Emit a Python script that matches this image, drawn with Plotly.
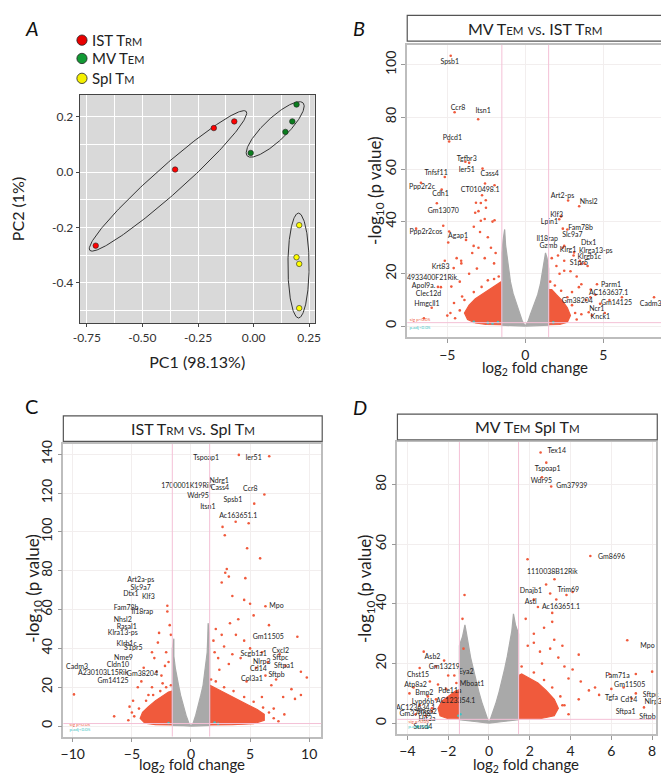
import numpy as np
import plotly.graph_objects as go

FONT = "Lato"
RED = "#f05a3c"
GREY = "#a9a9a9"
CYAN = "#3cc4c4"
PINK = "#f4c0d6"

# ---------------- Panel A : PCA ----------------
ist_pc1 = [-0.710, -0.353, -0.179, -0.087]
ist_pc2 = [-0.266, 0.009, 0.159, 0.183]
mv_pc1 = [-0.013, 0.143, 0.174, 0.193]
mv_pc2 = [0.069, 0.145, 0.183, 0.244]
spl_pc1 = [0.205, 0.193, 0.205, 0.205]
spl_pc2 = [-0.192, -0.308, -0.332, -0.492]
# ellipse: centre (data), semi-axes (px), angle (deg)
ell_cx = [-0.385, 0.097, 0.202]
ell_cy = [-0.032, 0.154, -0.338]
ell_a = [106, 39, 52.7]
ell_b = [14, 11.5, 10.8]
ell_ang = [41.2, 43, 90]

# ---------------- Panel B ----------------
B_names = ["Spsb1", "Ccr8", "Itsn1", "Pdcd1", "Tgfbr3", "Ier51", "Cass4", "Tnfsf11", "Ppp2r2c", "Cdh1",
           "CT010498.1", "Gm13070", "Ppp2r2cos", "Agap1", "Krt83", "4933400F21Rik.", "Apol9a.", "Clec12d",
           "Hmgcll1", "Art2-ps", "Nhsl2", "Klf3", "Lpin1", "Fam78b", "Slc9a7", "Il18rap", "Dtx1", "Gzmb",
           "Klrg1", "Klrga13-ps", "Klrgb1c", "S1pr5", "Parm1", "AC163637.1", "Gm38204", "Gm14125", "Cadm3",
           "Ncr1", "Knck1"]
B_lx = [-4.84, -4.31, -2.70, -4.67, -3.75, -3.75, -2.28, -5.72, -6.62, -5.43, -2.89, -5.26, -6.37, -4.31,
        -5.43, -5.93, -6.52, -6.2, -6.31, 2.39, 4.07, 2.01, 1.55, 3.55, 3.02, 1.41, 4.07, 1.49, 2.75, 4.53,
        4.11, 3.44, 5.5, 5.35, 3.34, 5.85, 8.05, 4.59, 4.82]
B_ly = [101, 83.4, 82.2, 71.8, 64, 59.7, 58, 58.4, 53, 50.4, 52, 44.1, 36, 34.2, 22.5, 18.4, 15.2, 12.0,
        8.3, 49.8, 47.5, 42.4, 39.6, 37.3, 34.6, 33.3, 31.8, 30.6, 29.1, 28.8, 26.2, 24.1, 15.6, 12.5, 9.5,
        8.8, 8.5, 6.4, 3.2]
B_px = [-4.78, -4.53, -3.02, -4.88, -3.84, -3.6, -2.74, -5.16, -6.69, -5.36, -2.58, -1.97, -2.77, -3.16,
        -2.85, -2.52, -5.67, -7.0, -4.88, 2.75, 3.46, 2.18, 2.41, 8.26, -5.26, -4.94, -3.31, -2.85, -2.53,
        -1.97, -3.21, -5.16, -4.11, -4.59, -4.74, -5.41, -4.57, -4.05, 2.5, 3.13, 3.58, 3.44, 2.5, 4.18,
        4.8, 4.07, 4.28, -2.1, -2.6, -3.0, -3.3, -2.9, -2.4, -3.8, -4.4, -4.1, -3.4, -3.0, -2.2, -1.9,
        -2.6, -3.6, -5.6, -6.0, -6.5, -5.0, -4.2, -3.1, -2.0, 1.7, 2.1, 2.5, 2.9, 3.3, 3.6, 4.2, 4.5, 3.0,
        3.9, 2.2, 2.0, 3.5, 4.0, 3.1, 2.4, 5.4, 6.2, 5.1, 2.7, 2.3, 3.8, 4.6,
        -1.7, -2.0, -2.4, -2.8, -3.3, -3.9, -4.2, -4.5, -4.8, 1.6, 1.9, 2.3, 2.7, 3.0, 3.2, 3.3, 3.6]
B_py = [103.5, 81.9, 79.2, 70.7, 62.9, 62.5, 60.3, 57.1, 54.9, 52.3, 54.6, 53.9, 50.1, 47.2, 47.1, 45.3,
        47, 37.3, 36.2, 48.1, 45.9, 40.9, 37.3, 11, 38.4, 32, 30.7, 40.3, 48.2, 40.5, 43.4, 25, 25, 22.2,
        15.1, 14.9, 8.8, 11.3, 30.7, 28.2, 23.8, 14.9, 21.2, 11, 8.5, 5.3, 4.1, 40, 41, 44, 38, 36, 34,
        33, 26, 24, 28, 30, 30, 28, 26, 20, 15, 7, 3, 4, 17, 22, 24, 26, 27, 25, 21, 19, 16, 14, 12, 13,
        10, 20, 23, 25, 23, 27, 30, 10, 11, 5, 37, 42, 24, 16,
        19, 18, 17.5, 15, 13, 10, 6, 3, 5, 17, 15.5, 13.5, 11, 8, 5, 2.5, 4.5]
B_grey_L = [(0, 0), (-0.18, 1.8), (-0.33, 4.4), (-0.55, 8), (-0.78, 12.5), (-0.95, 17), (-1.05, 22.5),
            (-1.17, 27), (-1.26, 31), (-1.32, 37), (-1.42, 33), (-1.5, 28), (-1.5, 0.3), (-0.5, 0.2)]
B_grey_R = [(0, 0), (0.18, 1.8), (0.33, 4.4), (0.55, 8), (0.8, 12), (0.97, 16), (1.08, 20), (1.2, 24),
            (1.3, 28), (1.4, 26), (1.5, 22), (1.5, 0.3), (0.5, 0.2)]
B_red_L = [(-1.5, 0.5), (-2.5, 0.6), (-3.2, 1.2), (-3.7, 2.5), (-3.9, 5), (-3.6, 8), (-3.2, 10.5),
           (-2.7, 12.5), (-2.2, 14.5), (-1.8, 16), (-1.55, 17)]
B_red_R = [(1.5, 0.5), (2.2, 0.6), (2.7, 1.5), (2.9, 4), (2.7, 7), (2.4, 9.5), (2.0, 12), (1.7, 14), (1.5, 14)]
B_cx = [-3.3, -2.4, -1.75, 1.8, -2.1]
B_cy = [1.6, 1.3, 1.5, 1.4, 1.0]

# ---------------- Panel C ----------------
C_names = ["Tspoap1", "Ier51", "Ndrg1", "1700001K19Rik", "Cass4", "Ccr8", "Wdr95", "Spsb1", "Itsn1",
           "Ac163651.1", "Art2a-ps", "Slc9a7", "Dtx1", "Klf3", "Fam78b", "Il18rap", "Nhsl2", "Rasal1",
           "Klra13-ps", "Klrb1c", "S1pr5", "Nme9", "Cldn10", "Cadm3", "A230103L15Rik", "Gm38204", "Gm14125",
           "Mpo", "Gm11505", "Cxcl2", "Scgb1a1", "Sftpc", "Nlrp3", "Sftpa1", "Cd14", "Sftpb", "Col3a1"]
C_lx = [1.29, 5.3, 2.39, -0.37, 2.45, 5.02, 0.6, 3.55, 1.43, 4.0, -4.25, -4.25, -5.08, -3.61, -5.49, -4.11,
        -5.77, -5.44, -5.77, -5.44, -4.88, -5.71, -6.18, -9.64, -7.43, -4.11, -6.6, 7.24, 6.54, 7.57, 5.3,
        7.57, 5.99, 7.87, 5.71, 7.24, 5.16]
C_ly = [137.8, 137.8, 126.2, 123.6, 122.6, 121.9, 118.5, 116.4, 112.5, 107.9, 75.2, 71.1, 68.1, 66.4, 60.9,
        58.7, 54.4, 51.0, 47.9, 42.4, 40.2, 35.1, 31.3, 30.5, 27.4, 26.7, 23.3, 61.5, 45.8, 38.7, 36.8,
        35.1, 32.7, 30.8, 29.1, 26.2, 24.1]
C_px = [4.05, 6.62, 6.21, 5.35, 3.78, 4.88, 2.67, 2.86, 4.75, 5.85, 3.03, 2.9, 4.6, 3.2, 2.6, 3.5, 4.5, 5.0,
        6.3, 5.3, 6.6, 4.0, 3.3, 2.1, 2.6, 3.8, 9.0, 4.5, 5.0, 6.0, 7.5, 2.8, 3.5, 6.5, 5.5, 8.0, 9.3, 9.8,
        7.2, 6.8, 8.5, 4.7, 3.2, 2.3, 1.9, 7.8, 9.3, 8.8, 6.0, 7.0, 4.2, 6.3, 2.0, 2.4,
        -2.0, -2.0, -1.8, -2.7, -1.7, -2.8, -3.3, -3.1, -2.2, -2.9, -2.5, -4.2, -4.5, -3.3, -3.6, -4.9,
        -5.2, -5.0, -6.5, -2.1, -1.9, -2.4, -9.9, -4.0,
        -1.7, -2.1, -2.6, -3.2, -3.8, -4.4, -4.8, -5.3, 1.7, 2.1, 2.8, 3.6, 4.5, 5.3, 6.1, 6.6, 7.0, 7.4, 7.9]
C_py = [139.7, 139, 119.3, 114.6, 105.3, 104.5, 102.6, 98.3, 91.6, 86.4, 80.9, 79, 76.2, 77, 74, 67, 65,
        63, 61.7, 57, 52, 55, 53, 50, 47, 47, 46, 44, 40, 38, 37, 41, 37, 33, 30, 31, 28, 25, 24, 21, 19,
        23, 32, 35, 44, 15, 16, 14, 15, 9, 35, 26, 38, 29,
        62, 59, 52, 48, 47, 43, 38, 35, 31, 28, 26, 23, 20, 20, 16, 13, 10, 7, 5, 38, 33, 22, 16.3, 30,
        21, 20, 18, 16, 13, 9, 5, 3, 24, 23, 20, 18, 15, 12.5, 9.5, 7, 4, 2.5, 6]
C_grey_L = [(0, 0), (-0.2, 1.8), (-0.42, 5.6), (-0.68, 11), (-0.88, 15.9), (-1.05, 21), (-1.17, 24.5),
            (-1.33, 30), (-1.45, 36), (-1.45, 45), (-1.58, 40), (-1.58, 0.3), (-0.6, 0.2)]
C_grey_R = [(0, 0), (0.2, 1.8), (0.4, 5.6), (0.65, 11), (0.83, 15.9), (1.02, 21), (1.13, 26), (1.27, 32),
            (1.37, 38), (1.42, 46), (1.45, 53), (1.55, 48), (1.58, 40), (1.58, 0.3), (0.6, 0.2)]
C_red_L = [(-1.58, 0.6), (-3.0, 0.7), (-3.9, 1.5), (-4.3, 4), (-4.1, 7), (-3.6, 10), (-3.0, 13), (-2.4, 15.5),
           (-1.9, 17.5), (-1.6, 18)]
C_red_R = [(1.58, 0.6), (3.5, 0.7), (5.3, 1.2), (6.2, 3), (6.2, 6), (5.6, 8.5), (4.8, 11), (4.0, 13.5),
           (3.2, 16), (2.5, 18), (1.9, 20), (1.6, 21)]
C_cx = [-1.9, 2.3, 2.0]
C_cy = [1.5, 1.2, 1.8]

# ---------------- Panel D ----------------
D_names = ["Tex14", "Tspoap1", "Wdr95", "Gm37939", "Gm8696", "1110038B12Rik", "Trim69", "Dnajb1", "Astl",
           "Ac163651.1", "Mpo", "Asb2", "Gm13219", "Eya2", "Chst15", "Fam71a", "Cxcl2", "Mboat1", "Atp8a2",
           "Gm11505", "Bmp2", "Pde11a", "Sftpc", "Tgfa", "Cd14", "Nlrp3", "Lypd6b", "AC123354.1",
           "AC123634.1", "Sftpa1", "Sftpb", "Gm37068", "Shisa2", "Hif3a", "Susd4"]
D_lx = [3.32, 2.88, 2.57, 4.06, 6.01, 3.1, 3.89, 2.05, 2.05, 3.53, 7.77, -2.77, -2.19, -1.12, -3.48, 6.3,
        8.38, -0.83, -3.6, 6.9, -3.17, -1.92, 7.93, 6.01, 6.86, 8.05, -3.24, -1.63, -3.6, 6.7, 7.77, -3.63,
        -3.04, -3.04, -3.24]
D_ly = [91.3, 85.3, 81.1, 79.4, 55.8, 50.8, 44.7, 44.1, 40.6, 38.9, 25.9, 22.0, 18.9, 17.2, 16.1, 15.9,
        15.3, 13.1, 12.8, 12.8, 10.0, 10.6, 9.4, 8.3, 7.6, 6.9, 6.9, 7.2, 5.0, 3.6, 1.9, 3.0, 3.7, 1.4, -1.4]
D_px = [2.53, 2.81, 2.6, 3.05, 4.97, 1.89, 3.21, 2.8, 3.0, 2.2, 2.4, 3.1, 3.3, 3.8, 4.1, 1.8, 2.2, 2.7, 3.1,
        3.2, 3.6, 4.4, 3.0, 2.5, 1.9, 3.7, 4.1, 3.9, 4.5, 4.9, 5.2, 4.4, 3.6, 6.78, 5.9, 7.2, 8.0, 6.0, 6.6,
        7.2, 7.0, 7.6, 5.4, 2.2, 2.6, 3.4,
        -3.2, -1.25, -3.4, -2.6, -2.0, -2.9, -3.7, -3.9, -3.0, -2.5, -3.4, -2.8, -1.7, -3.6, -2.2, -1.3, -1.2,
        -1.6, -2.1, -2.6, -2.8, -3.1, 1.6, 2.2, 2.7, 3.1, 3.5, 3.7, 3.9]
D_py = [90.8, 87.4, 82.5, 79.4, 56.1, 55, 48.3, 46.5, 43.5, 41.5, 39, 37, 41.5, 43, 44, 35, 30, 32, 34, 28,
        26, 23, 25, 24, 26, 19, 18, 15, 14, 11, 12, 8, 6, 27.8, 16.5, 16.5, 17.3, 11.5, 12, 10, 8.3, 5.3,
        9.5, 27, 20, 22,
        24, 25, 18.5, 19, 16, 14, 12, 10, 9, 13, 6, 5, 16, 3, 21, 35, 43,
        13.5, 11.5, 8, 4, 2.5, 19, 17, 14.5, 12, 9, 6, 3]
D_grey_L = [(0, 0), (-0.2, 3.9), (-0.35, 7), (-0.5, 10.6), (-0.65, 14.5), (-0.77, 18.3), (-0.9, 22),
            (-1.02, 26.1), (-1.1, 30), (-1.18, 33), (-1.3, 29), (-1.45, 26), (-1.45, 1.2), (-0.6, 0.5)]
D_grey_R = [(0, 0), (0.2, 3.9), (0.35, 7), (0.5, 10.6), (0.65, 14.5), (0.77, 18.3), (0.9, 22.5), (1.02, 27.2),
            (1.12, 31), (1.2, 36.7), (1.3, 33), (1.45, 30), (1.45, 1.2), (0.6, 0.5)]
D_red_L = [(-1.45, 1.5), (-2.0, 1.5), (-2.4, 2.5), (-2.5, 5), (-2.3, 7.5), (-1.9, 9.5), (-1.6, 11), (-1.45, 11)]
D_red_R = [(1.45, 1.5), (2.5, 1.5), (3.2, 2.5), (3.4, 5), (3.2, 8), (2.8, 11), (2.4, 13.5), (1.9, 15.5),
           (1.6, 16.5), (1.45, 16)]
D_cx = [-1.5, -1.4, -3.5, -3.0]
D_cy = [2.5, 3.0, -1.2, -1.5]

# thresholds per panel (log2FC, -log10 p)
thr_fc = {"B": 1.5, "C": 1.58, "D": 1.45}
thr_p = 1.3

W, H = 669, 773
fig = go.Figure()
shapes = []
annotations = []

# ---------- panel A drawing ----------
ax_A = dict(domain=[66 / W, 305.7 / W], range=[-0.782, 0.275])
ay_A = dict(domain=[1 - 313 / H, 1 - 83 / H], range=[-0.547, 0.280])
sx = (305.7 - 66) / (ax_A["range"][1] - ax_A["range"][0])
sy = (313 - 83) / (ay_A["range"][1] - ay_A["range"][0])
t = np.linspace(0, 2 * np.pi, 240)
for cx, cy, a, b, ang in zip(ell_cx, ell_cy, ell_a, ell_b, ell_ang):
    th = np.deg2rad(ang)
    u, v = a * np.cos(t), b * np.sin(t)
    X = u * np.cos(th) - v * np.sin(th)
    Y = u * np.sin(th) + v * np.cos(th)
    fig.add_trace(go.Scatter(x=cx + X / sx, y=cy + Y / sy, mode="lines", xaxis="x", yaxis="y",
                             line=dict(color="#333333", width=1), hoverinfo="skip", showlegend=False))
for xs, ys, col in [(ist_pc1, ist_pc2, "#ff0000"), (mv_pc1, mv_pc2, "#0a7d1e"), (spl_pc1, spl_pc2, "#ffff00")]:
    fig.add_trace(go.Scatter(x=xs, y=ys, mode="markers", xaxis="x", yaxis="y", showlegend=False,
                             marker=dict(size=5.5, color=col, line=dict(color="#222", width=0.6))))


def volcano(ax, ay, greys, reds, px, py, cx, cy, names, lx, ly, legx, legy):
    # dense point clouds drawn as filled outlines (red first, grey V on top)
    for pts, col in [(r, RED) for r in reds] + [(g, GREY) for g in greys]:
        xs = [p[0] for p in pts] + [pts[0][0]]
        ys = [p[1] for p in pts] + [pts[0][1]]
        fig.add_trace(go.Scatter(x=xs, y=ys, mode="lines", fill="toself", fillcolor=col,
                                 line=dict(color=col, width=1.2), xaxis=ax, yaxis=ay,
                                 hoverinfo="skip", showlegend=False))
    fig.add_trace(go.Scatter(x=px, y=py, mode="markers", marker=dict(size=2.6, color=RED),
                             xaxis=ax, yaxis=ay, showlegend=False))
    fig.add_trace(go.Scatter(x=cx, y=cy, mode="markers", marker=dict(size=2.6, color=CYAN),
                             xaxis=ax, yaxis=ay, showlegend=False))
    fig.add_trace(go.Scatter(x=lx, y=ly, mode="text", text=names, cliponaxis=False,
                             textfont=dict(family=FONT, size=7, color="#222"),
                             xaxis=ax, yaxis=ay, showlegend=False))
    fig.add_trace(go.Scatter(x=[legx, legx], y=legy, mode="text", text=["sig p<0.05", "p.adj<0.05"],
                             textfont=dict(family=FONT, size=4.5, color=[RED, CYAN]),
                             xaxis=ax, yaxis=ay, showlegend=False))


volcano("x2", "y2", [B_grey_L, B_grey_R], [B_red_L, B_red_R], B_px, B_py, B_cx, B_cy,
        B_names, B_lx, B_ly, -6.75, [2.2, -0.6])
volcano("x3", "y3", [C_grey_L, C_grey_R], [C_red_L, C_red_R], C_px, C_py, C_cx, C_cy,
        C_names, C_lx, C_ly, -9.4, [0.6, -2.0])
volcano("x4", "y4", [D_grey_L, D_grey_R], [D_red_L, D_red_R], D_px, D_py, D_cx, D_cy,
        D_names, D_lx, D_ly, -3.44, [0.3, -1.2])

for key, ax, ay in [("B", "x2", "y2"), ("C", "x3", "y3"), ("D", "x4", "y4")]:
    for s in (-1, 1):
        shapes.append(dict(type="line", xref=ax, yref=ay + " domain", x0=s * thr_fc[key], x1=s * thr_fc[key],
                           y0=0, y1=1, line=dict(color=PINK, width=1), layer="above"))
    shapes.append(dict(type="line", xref=ax + " domain", yref=ay, x0=0, x1=1, y0=thr_p, y1=thr_p,
                       line=dict(color=PINK, width=1), layer="above"))

# title boxes (pixel boxes -> paper)
sc = "<span style='font-size:11.5px'>"
boxes = [(400, 660.7, 3.3, 29.3, f"MV T{sc}EM</span> {sc}VS</span>. IST T{sc}RM</span>"),
         (49.3, 313.3, 406, 431.7, f"IST T{sc}RM</span> {sc}VS</span>. Spl T{sc}M</span>"),
         (390, 655, 404.3, 430, f"MV T{sc}EM</span> Spl T{sc}M</span>")]
for x0, x1, y0, y1, txt in boxes:
    shapes.append(dict(type="rect", xref="paper", yref="paper", x0=x0 / W, x1=x1 / W, y0=1 - y1 / H,
                       y1=1 - y0 / H, line=dict(color="#555555", width=1.2), fillcolor="white"))
    annotations.append(dict(text=txt, x=(x0 + x1) / 2 / W, y=1 - (y0 + y1) / 2 / H, xref="paper",
                            yref="paper", showarrow=False, xanchor="center", yanchor="middle",
                            font=dict(family=FONT, size=16, color="#222")))

# axis titles of volcano panels (pixel centres)
for xc, yc in [(530, 358), (181, 757), (521, 757)]:
    annotations.append(dict(text="log<sub>2</sub> fold change", x=xc / W, y=1 - yc / H, xref="paper",
                            yref="paper", showarrow=False, xanchor="center", yanchor="middle",
                            font=dict(family=FONT, size=15, color="#222")))
for xc, yc in [(368, 180), (19, 580), (358, 580)]:
    annotations.append(dict(text="-log<sub>10</sub> (p value)", x=xc / W, y=1 - yc / H, xref="paper",
                            yref="paper", showarrow=False, xanchor="center", yanchor="middle", textangle=-90,
                            font=dict(family=FONT, size=17, color="#222")))

# panel letters
for letter, xp, yp, ital in [("A", 17, 16, True), ("B", 351, 16, True), ("C", 17, 396, False), ("D", 352, 397, True)]:
    annotations.append(dict(text=f"<i>{letter}</i>" if ital else letter, x=xp / W, y=1 - yp / H,
                            xref="paper", yref="paper", showarrow=False, xanchor="center", yanchor="middle",
                            font=dict(family=FONT, size=20, color="#111")))

# PCA legend
for col, txt, yp in [("#e80000", "IST T<span style='font-size:11px'>RM</span>", 28.3),
                     ("#129a34", "MV T<span style='font-size:11px'>EM</span>", 46.7),
                     ("#f5f000", "Spl T<span style='font-size:11px'>M</span>", 66.7)]:
    shapes.append(dict(type="circle", xref="paper", yref="paper", x0=(68.3 - 5.2) / W, x1=(68.3 + 5.2) / W,
                       y0=1 - (yp + 5.2) / H, y1=1 - (yp - 5.2) / H, fillcolor=col,
                       line=dict(color="#222", width=0.8)))
    annotations.append(dict(text=txt, x=76.5 / W, y=1 - yp / H, xref="paper", yref="paper", showarrow=False,
                            xanchor="left", yanchor="middle", font=dict(family=FONT, size=15, color="#222")))

# Panel A grey background
shapes.append(dict(type="rect", xref="x domain", yref="y domain", x0=0, x1=1, y0=0, y1=1,
                   fillcolor="#d9d9d9", line=dict(width=0), layer="below"))

tickfont_v = dict(family=FONT, size=14, color="#222")


def vax(domain, rng, dtick, anchor):
    return dict(domain=domain, range=rng, dtick=dtick, anchor=anchor, showgrid=True, gridcolor="#f2eeee",
                gridwidth=1, zeroline=False, showline=True, mirror=True, linecolor="#bdbdbd", linewidth=1.5,
                ticks="outside", ticklen=4, tickcolor="#999", tickfont=tickfont_v)


fig.update_layout(
    width=W, height=H, margin=dict(l=0, r=0, t=0, b=0), paper_bgcolor="white", plot_bgcolor="white",
    showlegend=False, shapes=shapes, annotations=annotations,
    xaxis=dict(**ax_A, anchor="y", tickvals=[-0.75, -0.5, -0.25, 0, 0.25],
               ticktext=["-0.75", "-0.50", "-0.25", "0.00", "0.25"],
               showgrid=True, gridcolor="white", gridwidth=1.4, zeroline=False,
               minor=dict(dtick=0.125, tick0=-0.875, showgrid=True, gridcolor="white", gridwidth=0.6),
               showline=True, mirror=True, linecolor="#444", linewidth=1, ticks="outside", ticklen=3,
               tickcolor="#444", tickfont=dict(family=FONT, size=12, color="#333"),
               title=dict(text="PC1 (98.13%)", font=dict(family=FONT, size=16, color="#222"), standoff=13)),
    yaxis=dict(**ay_A, anchor="x", tickvals=[-0.4, -0.2, 0.0, 0.2], ticktext=["-0.4", "-0.2", "0.0", "0.2"],
               showgrid=True, gridcolor="white", gridwidth=1.4, zeroline=False,
               minor=dict(dtick=0.1, tick0=0.1, showgrid=True, gridcolor="white", gridwidth=0.6),
               showline=True, mirror=True, linecolor="#444", linewidth=1, ticks="outside", ticklen=3,
               tickcolor="#444", tickfont=dict(family=FONT, size=12, color="#333"),
               title=dict(text="PC2 (1%)", font=dict(family=FONT, size=16, color="#222"), standoff=28)),
    xaxis2=vax([400 / W, 661.7 / W], [-7.57, 8.89], 5, "y2"),
    yaxis2=dict(**vax([1 - 326.7 / H, 1 - 33 / H], [-4.2, 107.7], 20, "x2"), tickangle=-90),
    xaxis3=vax([49.3 / W, 312.3 / W], [-10.8, 11.02], 5, "y3"),
    yaxis3=dict(**vax([1 - 728.3 / H, 1 - 434.3 / H], [-5.4, 145.3], 20, "x3"), tickangle=-90),
    xaxis4=vax([390 / W, 653.3 / W], [-4.49, 8.17], 2, "y4"),
    yaxis4=dict(**vax([1 - 725.7 / H, 1 - 432.3 / H], [-3.6, 94.3], 20, "x4"), tickangle=-90),
)

fig.write_html("out.html")
